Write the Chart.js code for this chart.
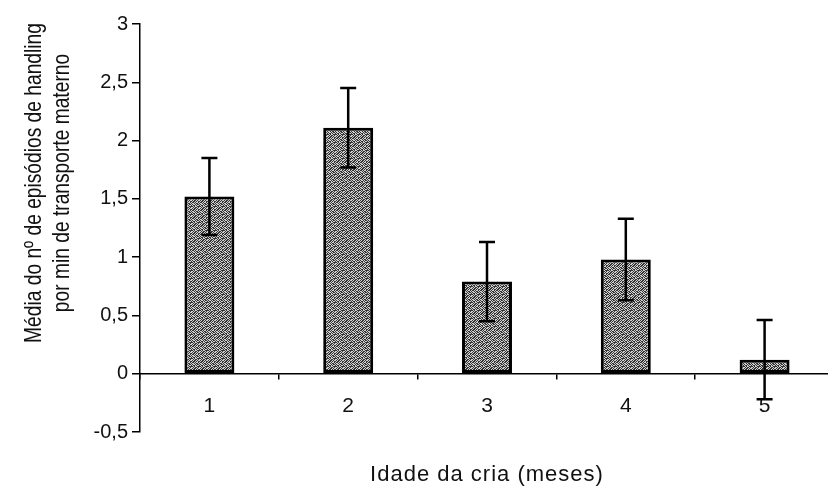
<!DOCTYPE html>
<html>
<head>
<meta charset="utf-8">
<script src="https://cdn.jsdelivr.net/npm/chart.js@4.4.1/dist/chart.umd.min.js"></script>
<style>
  html, body { margin: 0; padding: 0; background: #fff; overflow: hidden; }
  #wrap { width: 828px; height: 487px; overflow: hidden; }
</style>
</head>
<body>
<div id="wrap"><canvas id="c" width="834" height="487"></canvas></div>
<script>
// Idade da cria (meses)
const categories = ['1', '2', '3', '4', '5'];
// Média do nº de episódios de handling por min de transporte materno
const means = [1.52, 2.11, 0.79, 0.98, 0.12];
// Erro padrão de cada média
const errors = [0.33, 0.34, 0.34, 0.35, 0.34];
const yTicks = [-0.5, 0, 0.5, 1, 1.5, 2, 2.5, 3];

const xTitle = 'Idade da cria (meses)';
const yTitleLines = ['Média do nº de episódios de handling', 'por min de transporte materno'];

const FONT = '"Liberation Sans", Arial, sans-serif';

// Stippled grey fill for the bars
function stipple() {
  const rows = [
    '10110100',
    '01101011',
    '11010010',
    '00101101',
    '10010110',
    '01101001',
    '10100111',
    '01011010'
  ];
  const c = document.createElement('canvas');
  c.width = 8; c.height = 8;
  const g = c.getContext('2d');
  rows.forEach((r, y) => {
    for (let x = 0; x < 8; x++) {
      g.fillStyle = r[x] === '1' ? '#333' : '#d0d0d0';
      g.fillRect(x, y, 1, 1);
    }
  });
  return g.createPattern(c, 'repeat');
}

// Vertical error bars with caps at both ends
const errorBars = {
  id: 'errorBars',
  afterDatasetsDraw(chart) {
    const ctx = chart.ctx;
    const y = chart.scales.y;
    const meta = chart.getDatasetMeta(0);
    ctx.save();
    ctx.strokeStyle = '#000';
    ctx.lineWidth = 2.5;
    meta.data.forEach((bar, i) => {
      const x = bar.x;
      const top = y.getPixelForValue(means[i] + errors[i]);
      const bot = y.getPixelForValue(means[i] - errors[i]);
      ctx.beginPath();
      ctx.moveTo(x, top); ctx.lineTo(x, bot);
      ctx.moveTo(x - 8, top); ctx.lineTo(x + 8, top);
      ctx.moveTo(x - 8, bot); ctx.lineTo(x + 8, bot);
      ctx.stroke();
    });
    ctx.restore();
  }
};

// Axis titles: two-line vertical title on the left, horizontal title under the plot
const axisTitles = {
  id: 'axisTitles',
  afterDraw(chart) {
    const ctx = chart.ctx;
    const area = chart.chartArea;
    ctx.save();
    ctx.fillStyle = '#111';
    ctx.textAlign = 'center';
    ctx.textBaseline = 'middle';

    ctx.save();
    ctx.font = '24px ' + FONT;
    ctx.translate(0, 183);
    ctx.rotate(-Math.PI / 2);
    ctx.scale(0.8, 1);
    ctx.fillText(yTitleLines[0], 0, 34);
    ctx.fillText(yTitleLines[1], 0, 62);
    ctx.restore();

    ctx.font = '22px ' + FONT;
    if ('letterSpacing' in ctx) ctx.letterSpacing = '1px';
    ctx.fillText(xTitle, (area.left + area.right) / 2, 475);
    ctx.restore();
  }
};

new Chart(document.getElementById('c'), {
  type: 'bar',
  data: {
    labels: categories,
    datasets: [{
      data: means,
      backgroundColor: stipple(),
      borderColor: '#000',
      borderWidth: 3,
      borderSkipped: false,
      categoryPercentage: 1,
      barPercentage: 0.36
    }]
  },
  options: {
    responsive: false,
    animation: false,
    events: [],
    layout: { padding: { top: 24, left: 0, right: 0, bottom: 55 } },
    plugins: {
      legend: { display: false },
      tooltip: { enabled: false },
      title: { display: false }
    },
    scales: {
      x: {
        position: { y: 0 },
        grid: {
          offset: true,
          drawOnChartArea: false,
          drawTicks: true,
          tickLength: 5,
          color: '#000',
          lineWidth: 1.5
        },
        border: { display: true, color: '#000', width: 1.5 },
        ticks: {
          color: '#111',
          padding: 15,
          font: { family: FONT, size: 21 }
        }
      },
      y: {
        min: -0.5,
        max: 3,
        afterFit(scale) { scale.width = 140; },
        afterBuildTicks(scale) { scale.ticks = yTicks.map(v => ({ value: v })); },
        grid: {
          drawOnChartArea: false,
          drawTicks: true,
          tickLength: 8,
          color: '#000',
          lineWidth: 1.5
        },
        border: { display: true, color: '#000', width: 1.5 },
        ticks: {
          color: '#111',
          padding: 4,
          font: { family: FONT, size: 20 },
          callback: v => String(v).replace('.', ',')
        }
      }
    }
  },
  plugins: [errorBars, axisTitles]
});
</script>
</body>
</html>
